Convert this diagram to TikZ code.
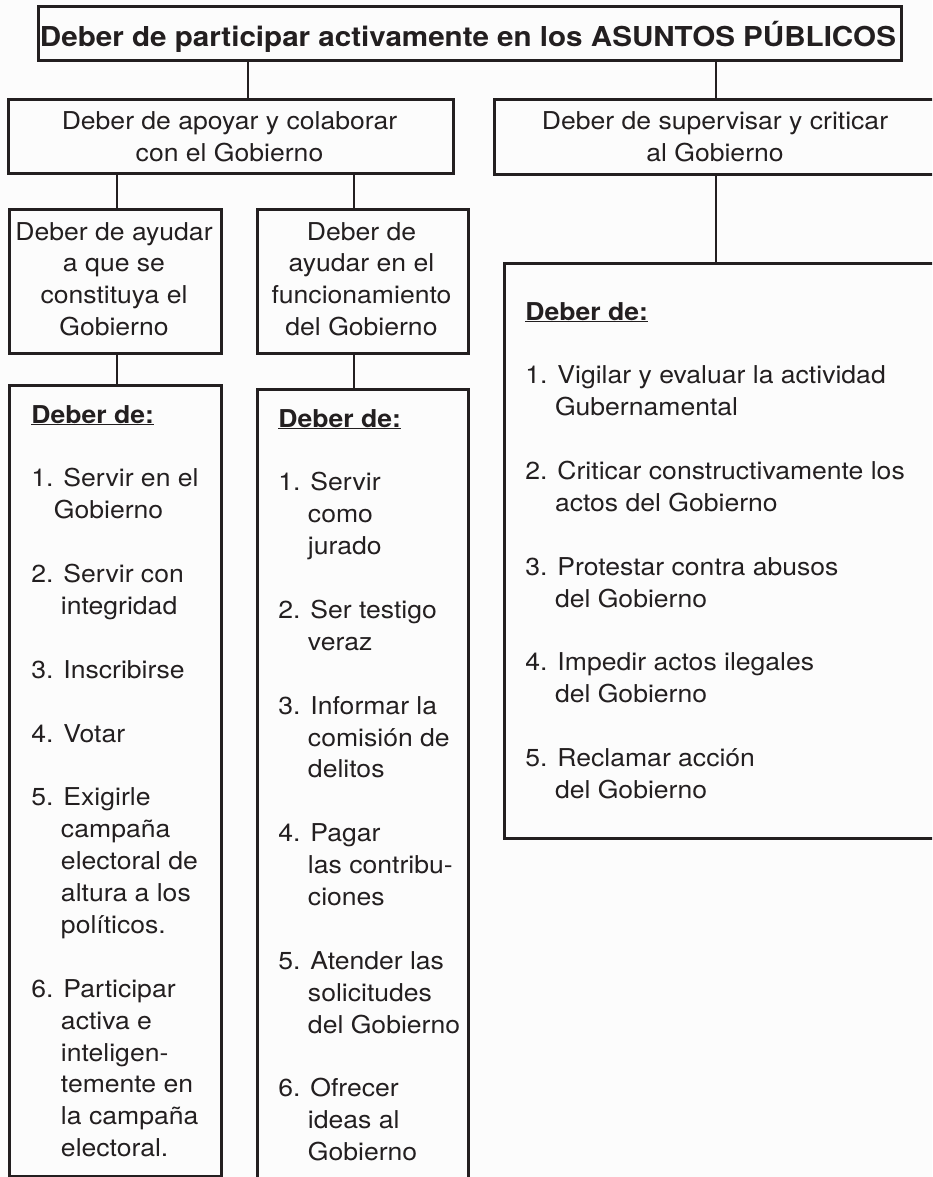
\documentclass[tikz,border=0pt]{standalone}
\usepackage{fontspec}
\setmainfont{TeX Gyre Heros}[FakeStretch=1.08]
\definecolor{ink}{RGB}{35,31,32}
\definecolor{paper}{RGB}{252,252,252}
\newcommand{\ind}{\phantom{1.\ }}
\begin{document}
\begin{tikzpicture}[x=1pt,y=-1pt,line width=2.9pt,
  box/.style={draw=ink,fill=paper,rectangle,inner sep=0pt,anchor=north west},
  lbl/.style={text=ink,inner sep=0pt,anchor=base,font=\fontsize{24.6pt}{31.9pt}\selectfont},
  lst/.style={text=ink,inner sep=0pt,anchor=base west,font=\fontsize{24.6pt}{31.9pt}\selectfont},
  conn/.style={draw=ink,line width=2.9pt}]
\fill[paper] (0,0) rectangle (932,1177);
\useasboundingbox (0,0) rectangle (932,1177);
\clip (0,0) rectangle (932,1177);

% boxes
\node[box,minimum width=863pt,minimum height=54pt] (top) at (37,5) {};
\node[box,minimum width=445pt,minimum height=74pt] (ap) at (7,98) {};
\node[box,minimum width=445pt,minimum height=75pt] (sup) at (493,98) {};
\node[box,minimum width=212pt,minimum height=144pt] (ha) at (8,208) {};
\node[box,minimum width=211pt,minimum height=144pt] (hb) at (256,208) {};
\node[box,minimum width=212pt,minimum height=791pt] (la) at (8,384) {};
\node[box,minimum width=211pt,minimum height=830pt] (lb) at (256,388) {};
\node[box,minimum width=440pt,minimum height=575pt] (lc) at (503,262) {};

% connector columns
\coordinate (x1) at (248,0);
\coordinate (x2) at (716,0);
\coordinate (x3) at (117,0);
\coordinate (x4) at (354,0);
\draw[conn] (x1 |- top.south) -- (x1 |- ap.north);
\draw[conn] (x2 |- top.south) -- (x2 |- sup.north);
\draw[conn] (x3 |- ap.south) -- (x3 |- ha.north);
\draw[conn] (x4 |- ap.south) -- (x4 |- hb.north);
\draw[conn] (x3 |- ha.south) -- (x3 |- la.north);
\draw[conn] (x4 |- hb.south) -- (x4 |- lb.north);
\draw[conn] (x2 |- sup.south) -- (x2 |- lc.north);

% texts
\node[lbl,font=\fontsize{27.4pt}{32pt}\selectfont\bfseries] (ttop) at (468,47) {Deber de participar activamente en los ASUNTOS PÚBLICOS};
\node[lbl] (tap) at (229.5,130) {\begin{tabular}[t]{@{}c@{}}Deber de apoyar y colaborar\\con el Gobierno\end{tabular}};
\node[lbl] (tsup) at (715,130) {\begin{tabular}[t]{@{}c@{}}Deber de supervisar y criticar\\al Gobierno\end{tabular}};
\node[lbl] (tha) at (114,240) {\begin{tabular}[t]{@{}c@{}}Deber de ayudar\\a que se\\constituya el\\Gobierno\end{tabular}};
\node[lbl] (thb) at (361.5,240) {\begin{tabular}[t]{@{}c@{}}Deber de\\ayudar en el\\funcionamiento\\del Gobierno\end{tabular}};

\node[lst] (tla) at (30,423) {\begin{tabular}[t]{@{}l@{}}
\textbf{\underline{Deber de:}}\\ \\
1. Servir en el\\
\hspace*{-7pt}\ind Gobierno\\ \\
2. Servir con\\
\ind integridad\\ \\
3. Inscribirse\\ \\
4. Votar\\ \\
5. Exigirle\\
\ind campaña\\
\ind electoral de\\
\ind altura a los\\
\ind políticos.\\ \\
6. Participar\\
\ind activa e\\
\ind inteligen-\\
\ind temente en\\
\ind la campaña\\
\ind electoral.
\end{tabular}};

\node[lst] (tlb) at (277,427) {\begin{tabular}[t]{@{}l@{}}
\textbf{\underline{Deber de:}}\\ \\
1. Servir\\
\ind como\\
\ind jurado\\ \\
2. Ser testigo\\
\ind veraz\\ \\
3. Informar la\\
\ind comisión de\\
\ind delitos\\ \\
4. Pagar\\
\ind las contribu-\\
\ind ciones\\ \\
5. Atender las\\
\ind solicitudes\\
\ind del Gobierno\\ \\
6. Ofrecer\\
\ind ideas al\\
\ind Gobierno
\end{tabular}};

\node[lst] (tlc) at (524,320) {\begin{tabular}[t]{@{}l@{}}
\textbf{\underline{Deber de:}}\\ \\
1. Vigilar y evaluar la actividad\\
\ind Gubernamental\\ \\
2. Criticar constructivamente los\\
\ind actos del Gobierno\\ \\
3. Protestar contra abusos\\
\ind del Gobierno\\ \\
4. Impedir actos ilegales\\
\ind del Gobierno\\ \\
5. Reclamar acción\\
\ind del Gobierno
\end{tabular}};
\end{tikzpicture}
\end{document}
